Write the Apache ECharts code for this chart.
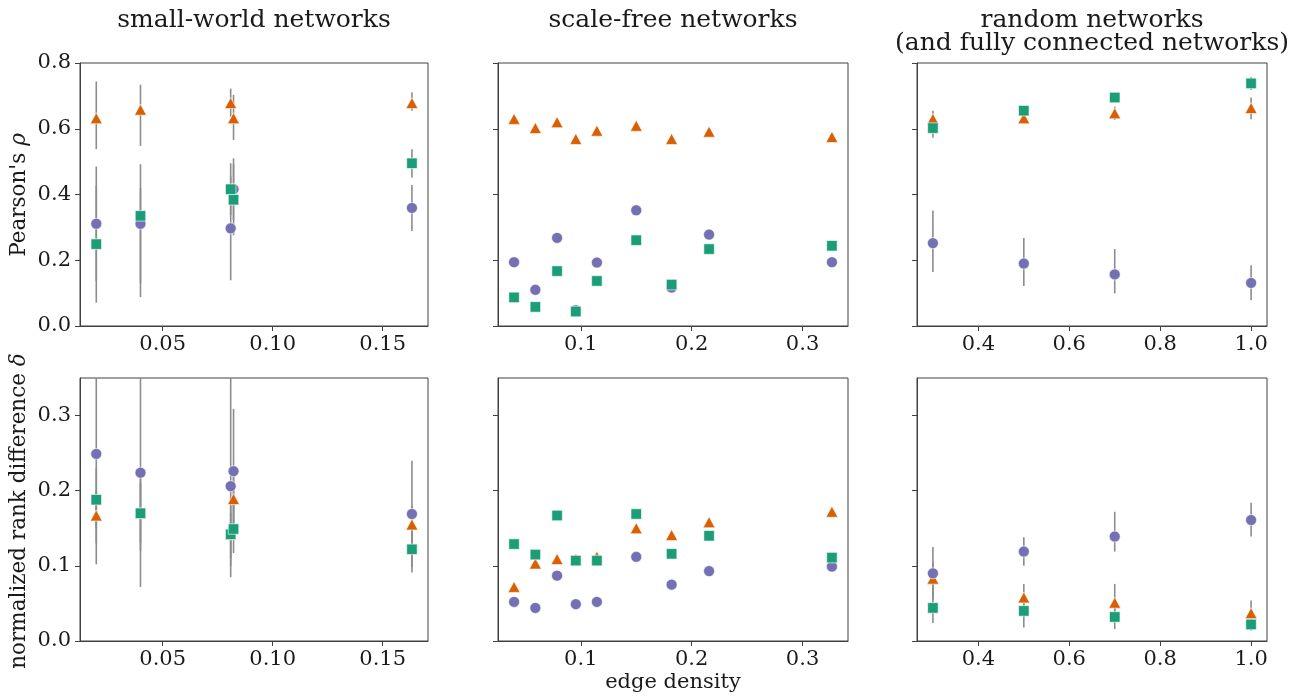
<!DOCTYPE html>
<html>
<head>
<meta charset="utf-8">
<script src="https://cdn.jsdelivr.net/npm/echarts@6/dist/echarts.min.js"></script>
<style>
html,body{margin:0;padding:0;background:#fff;}
#chart{width:1311px;height:697px;}
</style>
</head>
<body>
<div id="chart"></div>
<script>
// ---------- data ----------
const panelTitles = ['small-world networks', 'scale-free networks', 'random networks\n(and fully connected networks)'];
const yLabelTop = "Pearson's {i|ρ}";
const yLabelBottom = 'normalized rank difference {i|δ}';
const xLabel = 'edge density';

// small-world networks
const swX = [0.0198, 0.0399, 0.0809, 0.0822, 0.1633];
const swRhoTri = [0.632, 0.658, 0.678, 0.632, 0.678];
const swRhoTriErr = [[0.538, 0.744], [0.548, 0.734], [0.637, 0.722], [0.566, 0.703], [0.655, 0.711]];
const swRhoCirc = [0.311, 0.311, 0.297, 0.416, 0.359];
const swRhoCircErr = [[0.137, 0.485], [0.130, 0.492], [0.139, 0.455], [0.322, 0.510], [0.289, 0.429]];
const swRhoSq = [0.249, 0.335, 0.416, 0.384, 0.495];
const swRhoSqErr = [[0.071, 0.427], [0.088, 0.420], [0.337, 0.495], [0.276, 0.492], [0.452, 0.538]];
const swDelTri = [0.167, 0.170, 0.142, 0.189, 0.155];
const swDelTriErr = [[0.130, 0.200], [0.130, 0.210], [0.110, 0.170], [0.150, 0.230], [0.130, 0.180]];
const swDelCirc = [0.249, 0.224, 0.206, 0.226, 0.169];
const swDelCircErr = [[0.102, 0.395], [0.072, 0.375], [0.085, 0.360], [0.143, 0.309], [0.098, 0.240]];
const swDelSq = [0.188, 0.170, 0.142, 0.149, 0.122];
const swDelSqErr = [[0.150, 0.230], [0.120, 0.220], [0.100, 0.180], [0.117, 0.181], [0.091, 0.152]];

// scale-free networks
const sfX = [0.0398, 0.059, 0.0786, 0.0955, 0.1145, 0.150, 0.1819, 0.2157, 0.3265];
const sfRhoTri = [0.630, 0.602, 0.620, 0.569, 0.594, 0.609, 0.569, 0.591, 0.575];
const sfRhoCirc = [0.194, 0.110, 0.268, 0.048, 0.193, 0.352, 0.117, 0.278, 0.194];
const sfRhoSq = [0.087, 0.058, 0.167, 0.044, 0.137, 0.261, 0.126, 0.234, 0.244];
const sfDelTri = [0.072, 0.103, 0.109, 0.109, 0.112, 0.150, 0.141, 0.158, 0.172];
const sfDelCirc = [0.052, 0.044, 0.087, 0.049, 0.052, 0.112, 0.075, 0.093, 0.099];
const sfDelSq = [0.129, 0.115, 0.167, 0.107, 0.107, 0.169, 0.116, 0.140, 0.111];

// random networks
const rnX = [0.3, 0.5, 0.7, 1.0];
const rnRhoTri = [0.630, 0.632, 0.647, 0.663];
const rnRhoTriErr = [[0.605, 0.655], [0.622, 0.645], [0.627, 0.667], [0.629, 0.695]];
const rnRhoCirc = [0.252, 0.190, 0.157, 0.131];
const rnRhoCircErr = [[0.164, 0.351], [0.122, 0.268], [0.099, 0.234], [0.078, 0.185]];
const rnRhoSq = [0.602, 0.655, 0.695, 0.738];
const rnRhoSqErr = [[0.573, 0.632], [0.643, 0.666], [0.685, 0.705], [0.718, 0.758]];
const rnDelTri = [0.083, 0.058, 0.051, 0.037];
const rnDelTriErr = [[0.060, 0.105], [0.040, 0.076], [0.026, 0.076], [0.020, 0.054]];
const rnDelCirc = [0.090, 0.119, 0.139, 0.161];
const rnDelCircErr = [[0.055, 0.125], [0.100, 0.138], [0.119, 0.172], [0.139, 0.184]];
const rnDelSq = [0.044, 0.040, 0.032, 0.022];
const rnDelSqErr = [[0.024, 0.065], [0.018, 0.063], [0.016, 0.048], [0.014, 0.030]];

// axes / ticks
const swXRange = [0.0124, 0.1706];
const sfXRange = [0.0253, 0.341];
const rnXRange = [0.265, 1.035];
const swTicks = [0.05, 0.10, 0.15];
const swTickLabels = ['0.05', '0.10', '0.15'];
const sfTicks = [0.1, 0.2, 0.3];
const sfTickLabels = ['0.1', '0.2', '0.3'];
const rnTicks = [0.4, 0.6, 0.8, 1.0];
const rnTickLabels = ['0.4', '0.6', '0.8', '1.0'];
const rhoRange = [0, 0.8];
const rhoTicks = [0, 0.2, 0.4, 0.6, 0.8];
const rhoTickLabels = ['0.0', '0.2', '0.4', '0.6', '0.8'];
const delRange = [0, 0.35];
const delTicks = [0, 0.1, 0.2, 0.3];
const delTickLabels = ['0.0', '0.1', '0.2', '0.3'];

// ---------- build ----------
const FONT = 'DejaVu Serif';
const C_TRI = '#d95f02', C_CIRC = '#7570b3', C_SQ = '#1b9e77', C_ERR = '#8c8c8c', C_AX = '#404040', C_TXT = '#1a1a1a';

const colLeft = [80, 498, 917];
const colWidth = [348, 350, 350];
const rowTop = [63, 378];
const rowHeight = 263;

const grids = [], xAxes = [], yAxes = [], series = [];

function labelFormatter(ticks, labels) {
  return function (v) {
    for (let i = 0; i < ticks.length; i++) if (Math.abs(ticks[i] - v) < 1e-9) return labels[i];
    return '';
  };
}

const xDefs = [
  {range: swXRange, ticks: swTicks, labels: swTickLabels},
  {range: sfXRange, ticks: sfTicks, labels: sfTickLabels},
  {range: rnXRange, ticks: rnTicks, labels: rnTickLabels}
];
const yDefs = [
  {range: rhoRange, ticks: rhoTicks, labels: rhoTickLabels},
  {range: delRange, ticks: delTicks, labels: delTickLabels}
];

const panelData = [
  [
    {x: swX, tri: swRhoTri, triErr: swRhoTriErr, circ: swRhoCirc, circErr: swRhoCircErr, sq: swRhoSq, sqErr: swRhoSqErr},
    {x: sfX, tri: sfRhoTri, circ: sfRhoCirc, sq: sfRhoSq},
    {x: rnX, tri: rnRhoTri, triErr: rnRhoTriErr, circ: rnRhoCirc, circErr: rnRhoCircErr, sq: rnRhoSq, sqErr: rnRhoSqErr}
  ],
  [
    {x: swX, tri: swDelTri, triErr: swDelTriErr, circ: swDelCirc, circErr: swDelCircErr, sq: swDelSq, sqErr: swDelSqErr},
    {x: sfX, tri: sfDelTri, circ: sfDelCirc, sq: sfDelSq},
    {x: rnX, tri: rnDelTri, triErr: rnDelTriErr, circ: rnDelCirc, circErr: rnDelCircErr, sq: rnDelSq, sqErr: rnDelSqErr}
  ]
];

function errRender(params, api) {
  const cs = params.coordSys;
  const x = api.value(0);
  const p1 = api.coord([x, api.value(1)]);
  const p2 = api.coord([x, api.value(2)]);
  const top = cs.y, bot = cs.y + cs.height;
  const y1 = Math.max(top, Math.min(bot, p1[1]));
  const y2 = Math.max(top, Math.min(bot, p2[1]));
  return {type: 'line', shape: {x1: p1[0], y1: y1, x2: p2[0], y2: y2},
          style: {stroke: C_ERR, lineWidth: 1.6}};
}

let gi = 0;
for (let r = 0; r < 2; r++) {
  for (let c = 0; c < 3; c++) {
    grids.push({left: colLeft[c], top: rowTop[r], width: colWidth[c], height: rowHeight,
      show: true, borderColor: C_AX, borderWidth: 1, backgroundColor: '#fff', containLabel: false});
    const xd = xDefs[c], yd = yDefs[r];
    xAxes.push({type: 'value', gridIndex: gi, min: xd.range[0], max: xd.range[1],
      axisLine: {show: true, lineStyle: {color: C_AX, width: 1}},
      axisTick: {show: true, length: 5, lineStyle: {color: C_AX, width: 1}, customValues: xd.ticks},
      axisLabel: {show: true, customValues: xd.ticks, formatter: labelFormatter(xd.ticks, xd.labels),
        fontFamily: FONT, fontSize: 21, color: C_TXT, margin: 8},
      splitLine: {show: false}});
    yAxes.push({type: 'value', gridIndex: gi, min: yd.range[0], max: yd.range[1],
      axisLine: {show: true, lineStyle: {color: C_AX, width: 1}},
      axisTick: {show: true, length: 5, lineStyle: {color: C_AX, width: 1}, customValues: yd.ticks},
      axisLabel: {show: c === 0, customValues: yd.ticks, formatter: labelFormatter(yd.ticks, yd.labels),
        fontFamily: FONT, fontSize: 21, color: C_TXT, margin: 9},
      splitLine: {show: false}});
    const pd = panelData[r][c];
    const errSets = [pd.triErr, pd.circErr, pd.sqErr];
    errSets.forEach(function (es) {
      if (!es) return;
      series.push({type: 'custom', xAxisIndex: gi, yAxisIndex: gi, z: 1, silent: true,
        renderItem: errRender,
        data: pd.x.map(function (xv, i) { return [xv, es[i][0], es[i][1]]; })});
    });
    const mk = [
      {vals: pd.tri, symbol: 'triangle', size: [12, 11], color: C_TRI, z: 2},
      {vals: pd.circ, symbol: 'circle', size: 11, color: C_CIRC, z: 3},
      {vals: pd.sq, symbol: 'rect', size: 10.5, color: C_SQ, z: 4}
    ];
    mk.forEach(function (m) {
      series.push({type: 'scatter', xAxisIndex: gi, yAxisIndex: gi, z: m.z, symbol: m.symbol, symbolSize: m.size,
        itemStyle: {color: m.color, opacity: 1, borderColor: '#ffffff', borderWidth: 0.6},
        emphasis: {disabled: true},
        data: pd.x.map(function (xv, i) { return [xv, m.vals[i]]; })});
    });
    gi++;
  }
}

const richItalic = {i: {fontFamily: FONT, fontStyle: 'italic', fontSize: 21.5, fill: C_TXT}};
const graphics = [
  {type: 'text', x: colLeft[0] + colWidth[0] / 2, y: 20, style: {text: panelTitles[0], fontFamily: FONT, fontSize: 25, fill: C_TXT, align: 'center', verticalAlign: 'middle'}},
  {type: 'text', x: colLeft[1] + colWidth[1] / 2, y: 20, style: {text: panelTitles[1], fontFamily: FONT, fontSize: 25, fill: C_TXT, align: 'center', verticalAlign: 'middle'}},
  {type: 'text', x: colLeft[2] + colWidth[2] / 2, y: 32, style: {text: panelTitles[2], fontFamily: FONT, fontSize: 25, lineHeight: 23, fill: C_TXT, align: 'center', verticalAlign: 'middle'}},
  {type: 'text', x: 19, y: 195, rotation: Math.PI / 2,
    style: {text: yLabelTop, fontFamily: FONT, fontSize: 21.5, fill: C_TXT, align: 'center', verticalAlign: 'middle', rich: richItalic}},
  {type: 'text', x: 19, y: 511, rotation: Math.PI / 2,
    style: {text: yLabelBottom, fontFamily: FONT, fontSize: 21.5, fill: C_TXT, align: 'center', verticalAlign: 'middle', rich: richItalic}},
  {type: 'text', x: colLeft[1] + colWidth[1] / 2, y: 683, style: {text: xLabel, fontFamily: FONT, fontSize: 21, fill: C_TXT, align: 'center', verticalAlign: 'middle'}}
];

const chart = echarts.init(document.getElementById('chart'), null, {renderer: 'canvas'});
chart.setOption({
  animation: false,
  backgroundColor: '#ffffff',
  grid: grids,
  xAxis: xAxes,
  yAxis: yAxes,
  series: series,
  graphic: graphics
});
</script>
</body>
</html>
